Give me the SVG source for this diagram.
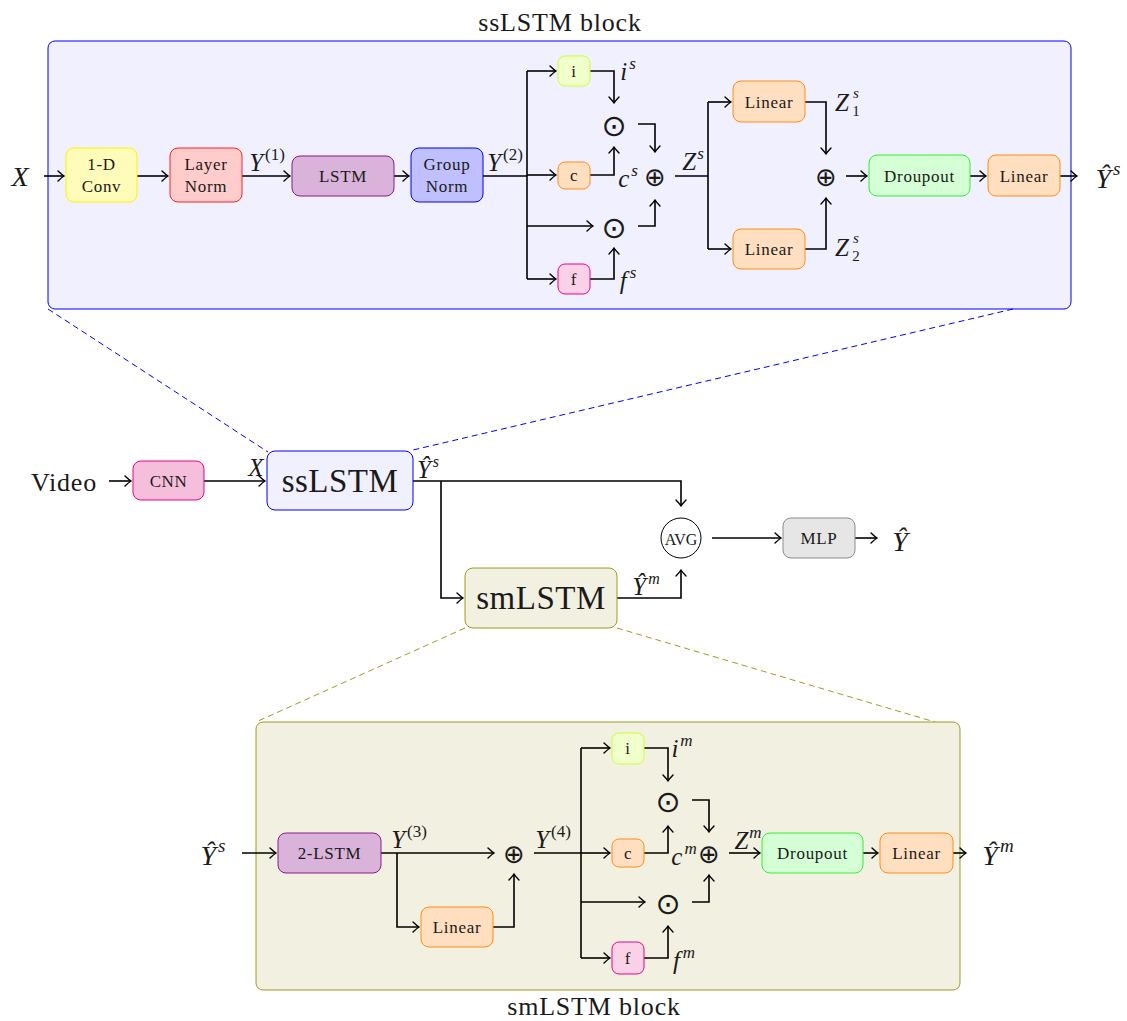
<svg xmlns="http://www.w3.org/2000/svg" width="1127" height="1021" viewBox="0 0 1127 1021">
<defs>
<marker id="ar" viewBox="-7 -6 9 12" refX="0" refY="0" markerWidth="9" markerHeight="12" markerUnits="userSpaceOnUse" orient="auto">
<path d="M-6,-5 Q-2,-1.2 0,0 Q-2,1.2 -6,5" fill="none" stroke="#000" stroke-width="1.4" stroke-linecap="round"/>
</marker>
<style>
text{font-family:"Liberation Serif","DejaVu Serif",serif;fill:#1a1a1a;text-anchor:middle;dominant-baseline:central}
.lbl{font-size:17px;letter-spacing:0.7px}
.big{font-size:33px;letter-spacing:0.5px}
.ttl{font-size:26px;letter-spacing:0.8px}
.var{font-size:28px;font-style:italic}
.sv{font-size:25px;font-style:italic}
.op{font-family:"DejaVu Sans",sans-serif;font-size:30px}
.opp{font-family:"DejaVu Sans",sans-serif;font-size:26px}
.c path,.c polyline,.c line{fill:none;stroke:#000;stroke-width:1.6}
.a{marker-end:url(#ar)}
.dash{fill:none;stroke-width:1;stroke-dasharray:6 4}
.yel{fill:#fffbb8;stroke:#fff200}
.red{fill:#ffcccc;stroke:#ff2020}
.vio{fill:#d9b3d9;stroke:#8b1a8b}
.blu{fill:#c0c0ff;stroke:#0000ff}
.lim{fill:#f0ffcc;stroke:#ccff33}
.ora{fill:#ffdfbf;stroke:#ff8c1a}
.mag{fill:#fad1e6;stroke:#ec008c}
.mag2{fill:#f5bedb;stroke:#ec008c}
.grn{fill:#d5ffd5;stroke:#33ee33}
.gry{fill:#e6e6e6;stroke:#8c8c8c}
.bx{stroke-width:1}
</style>
</defs>

<g id="ssLSTM-block">
<rect x="48" y="41" width="1023" height="268" rx="7" fill="#f0f0fe" stroke="#0000ff" stroke-width="1"/>
<text x="560" y="22" class="ttl">ssLSTM block</text>
</g>

<g id="smLSTM-block">
<rect x="256" y="722" width="704" height="268" rx="7" fill="#f2f0e0" stroke="#a09a20" stroke-width="1"/>
<text x="594" y="1006" class="ttl">smLSTM block</text>
</g>

<g id="zoom-lines">
<line x1="48" y1="309" x2="268" y2="452" class="dash" stroke="#0000ff"/>
<line x1="1013" y1="309" x2="413" y2="450" class="dash" stroke="#0000ff"/>
<line x1="465" y1="628" x2="256" y2="722" class="dash" stroke="#a09a20"/>
<line x1="617" y1="628" x2="935" y2="722" class="dash" stroke="#a09a20"/>
</g>

<g id="connectors" class="c">
<line x1="44" y1="176" x2="64" y2="176" class="a"/>
<line x1="137" y1="176" x2="168" y2="176" class="a"/>
<line x1="242" y1="176" x2="290" y2="176" class="a"/>
<line x1="394" y1="176" x2="409" y2="176" class="a"/>
<line x1="483" y1="176" x2="527" y2="176"/>
<line x1="527" y1="71" x2="527" y2="279"/>
<polyline points="527,71 556,71" class="a"/>
<polyline points="527,175 556,175" class="a"/>
<polyline points="527,226 593,226" class="a"/>
<polyline points="527,279 556,279" class="a"/>
<polyline points="590,71 614,71 614,103" class="a"/>
<polyline points="590,175 614,175 614,147" class="a"/>
<polyline points="590,279 614,279 614,248" class="a"/>
<polyline points="638,124 655,124 655,152" class="a"/>
<polyline points="638,226 655,226 655,200" class="a"/>
<line x1="675" y1="176" x2="708" y2="176"/>
<line x1="708" y1="102" x2="708" y2="249"/>
<polyline points="708,102 731,102" class="a"/>
<polyline points="708,249 731,249" class="a"/>
<polyline points="805,102 826,102 826,154" class="a"/>
<polyline points="805,249 826,249 826,198" class="a"/>
<line x1="846" y1="176" x2="867" y2="176" class="a"/>
<line x1="970" y1="176" x2="986" y2="176" class="a"/>
<line x1="1060" y1="176" x2="1077" y2="176" class="a"/>
<line x1="109" y1="481" x2="131" y2="481" class="a"/>
<line x1="204" y1="481" x2="265" y2="481" class="a"/>
<polyline points="413,481 681,481 681,506" class="a"/>
<polyline points="441,481 441,598 463,598" class="a"/>
<polyline points="617,598 681,598 681,570" class="a"/>
<line x1="712" y1="538" x2="781" y2="538" class="a"/>
<line x1="855" y1="538" x2="877" y2="538" class="a"/>
<line x1="242" y1="853" x2="276" y2="853" class="a"/>
<line x1="381" y1="853" x2="494" y2="853" class="a"/>
<polyline points="397,853 397,927 419,927" class="a"/>
<polyline points="493,927 514,927 514,874" class="a"/>
<line x1="534" y1="853" x2="581" y2="853"/>
<line x1="581" y1="748" x2="581" y2="958"/>
<polyline points="581,748 610,748" class="a"/>
<polyline points="581,853 610,853" class="a"/>
<polyline points="581,902 645,902" class="a"/>
<polyline points="581,958 610,958" class="a"/>
<polyline points="644,748 668,748 668,781" class="a"/>
<polyline points="644,853 668,853 668,826" class="a"/>
<polyline points="644,958 668,958 668,926" class="a"/>
<polyline points="692,800 709,800 709,832" class="a"/>
<polyline points="692,902 709,902 709,875" class="a"/>
<line x1="729" y1="853" x2="760" y2="853" class="a"/>
<line x1="863" y1="853" x2="878" y2="853" class="a"/>
<line x1="953" y1="853" x2="966" y2="853" class="a"/>
</g>

<g id="X-in"><text x="20" y="176" class="var">X</text></g>
<g id="conv"><rect x="66" y="148" width="71" height="54" rx="8" class="yel bx"/><text x="101.5" y="164" class="lbl">1-D</text><text x="101.5" y="186" class="lbl">Conv</text></g>
<g id="layernorm"><rect x="170" y="148" width="72" height="54" rx="8" class="red bx"/><text x="206" y="164" class="lbl">Layer</text><text x="206" y="186" class="lbl">Norm</text></g>
<g id="Y1"><text x="267" y="162" class="sv">Y<tspan font-style="normal" font-size="17" dx="2" dy="-8">(1)</tspan></text></g>
<g id="lstm"><rect x="292" y="156" width="102" height="40" rx="8" class="vio bx"/><text x="343" y="176" class="lbl">LSTM</text></g>
<g id="groupnorm"><rect x="411" y="148" width="72" height="54" rx="8" class="blu bx"/><text x="447" y="164" class="lbl">Group</text><text x="447" y="186" class="lbl">Norm</text></g>
<g id="Y2"><text x="505" y="162" class="sv">Y<tspan font-style="normal" font-size="17" dx="2" dy="-8">(2)</tspan></text></g>
<g id="gate-i"><rect x="558" y="56" width="32" height="30" rx="7" class="lim bx"/><text x="574" y="71" class="lbl">i</text></g>
<g id="gate-c"><rect x="558" y="162" width="32" height="27" rx="7" class="ora bx"/><text x="574" y="175" class="lbl">c</text></g>
<g id="gate-f"><rect x="558" y="264" width="32" height="30" rx="7" class="mag bx"/><text x="574" y="279" class="lbl">f</text></g>
<g id="is"><text x="628" y="71" class="sv">i<tspan font-size="17" dx="2" dy="-8">s</tspan></text></g>
<g id="cs"><text x="628" y="178" class="sv">c<tspan font-size="17" dx="2" dy="-8">s</tspan></text></g>
<g id="fs"><text x="628" y="280" class="sv">f<tspan font-size="17" dx="3" dy="-8">s</tspan></text></g>
<g id="odot1"><text x="614" y="125" class="op">⊙</text></g>
<g id="odot2"><text x="614" y="227" class="op">⊙</text></g>
<g id="oplus1"><text x="655" y="177" class="opp">⊕</text></g>
<g id="Zs"><text x="693" y="161" class="sv">Z<tspan font-size="17" dx="1" dy="-8">s</tspan></text></g>
<g id="linear1"><rect x="733" y="81" width="72" height="41" rx="8" class="ora bx"/><text x="769" y="102" class="lbl">Linear</text></g>
<g id="linear2"><rect x="733" y="229" width="72" height="40" rx="8" class="ora bx"/><text x="769" y="249" class="lbl">Linear</text></g>
<g id="Z1"><text x="842" y="102" class="sv">Z</text><text x="856" y="93" font-size="15" font-style="italic">s</text><text x="856" y="111" font-size="15">1</text></g>
<g id="Z2"><text x="842" y="247" class="sv">Z</text><text x="856" y="238" font-size="15" font-style="italic">s</text><text x="856" y="256" font-size="15">2</text></g>
<g id="oplus2"><text x="826" y="177" class="opp">⊕</text></g>
<g id="dropout1"><rect x="869" y="155" width="101" height="41" rx="8" class="grn bx"/><text x="919.5" y="176" class="lbl">Droupout</text></g>
<g id="linear3"><rect x="988" y="155" width="72" height="41" rx="8" class="ora bx"/><text x="1024" y="176" class="lbl">Linear</text></g>
<g id="Ys-out"><text x="1108" y="178" class="var">Ŷ<tspan font-size="19" dx="2" dy="-10">s</tspan></text></g>

<g id="video"><text x="64" y="482" class="ttl">Video</text></g>
<g id="cnn"><rect x="133" y="461" width="71" height="39" rx="8" class="mag2 bx"/><text x="168.5" y="481" font-size="17" letter-spacing="0.6">CNN</text></g>
<g id="X-mid"><text x="256" y="467" class="sv">X</text></g>
<g id="ssLSTM"><rect x="267" y="451" width="146" height="59" rx="8" fill="#f0f0fe" stroke="#0000ff" stroke-width="1"/><text x="340" y="481" class="big">ssLSTM</text></g>
<g id="Ys-mid"><text x="428" y="469" class="sv" font-size="22">Ŷ<tspan font-size="16" dx="2" dy="-8">s</tspan></text></g>
<g id="smLSTM"><rect x="465" y="568" width="152" height="60" rx="8" fill="#f2f0e0" stroke="#a09a20" stroke-width="1"/><text x="541" y="598" class="big">smLSTM</text></g>
<g id="Ym-mid"><text x="646" y="586" class="sv" font-size="22">Ŷ<tspan font-size="16" dx="2" dy="-8">m</tspan></text></g>
<g id="avg"><circle cx="681" cy="538" r="20" fill="none" stroke="#000" stroke-width="1"/><text x="681" y="539" font-size="16">AVG</text></g>
<g id="mlp"><rect x="783" y="518" width="72" height="40" rx="8" class="gry bx"/><text x="819" y="538" class="lbl">MLP</text></g>
<g id="Y-final"><text x="900" y="541" class="var">Ŷ</text></g>

<g id="Ys-in"><text x="213" y="855" class="var">Ŷ<tspan font-size="19" dx="2" dy="-10">s</tspan></text></g>
<g id="lstm2"><rect x="278" y="833" width="103" height="40" rx="8" class="vio bx"/><text x="329.5" y="853" class="lbl">2-LSTM</text></g>
<g id="Y3"><text x="409" y="839" class="sv">Y<tspan font-style="normal" font-size="17" dx="2" dy="-8">(3)</tspan></text></g>
<g id="linear4"><rect x="421" y="907" width="72" height="40" rx="8" class="ora bx"/><text x="457" y="927" class="lbl">Linear</text></g>
<g id="oplus3"><text x="514" y="854" class="opp">⊕</text></g>
<g id="Y4"><text x="553" y="839" class="sv">Y<tspan font-style="normal" font-size="17" dx="2" dy="-8">(4)</tspan></text></g>
<g id="gate-i2"><rect x="612" y="733" width="32" height="31" rx="7" class="lim bx"/><text x="628" y="748" class="lbl">i</text></g>
<g id="gate-c2"><rect x="612" y="839" width="32" height="28" rx="7" class="ora bx"/><text x="628" y="853" class="lbl">c</text></g>
<g id="gate-f2"><rect x="612" y="942" width="32" height="32" rx="7" class="mag bx"/><text x="628" y="958" class="lbl">f</text></g>
<g id="im"><text x="682" y="748" class="sv">i<tspan font-size="17" dx="2" dy="-8">m</tspan></text></g>
<g id="cm"><text x="684" y="856" class="sv">c<tspan font-size="17" dx="2" dy="-8">m</tspan></text></g>
<g id="fm"><text x="684" y="960" class="sv">f<tspan font-size="17" dx="3" dy="-8">m</tspan></text></g>
<g id="odot3"><text x="668" y="801" class="op">⊙</text></g>
<g id="odot4"><text x="668" y="903" class="op">⊙</text></g>
<g id="oplus4"><text x="709" y="854" class="opp">⊕</text></g>
<g id="Zm"><text x="748" y="840" class="sv">Z<tspan font-size="17" dx="1" dy="-8">m</tspan></text></g>
<g id="dropout2"><rect x="762" y="833" width="101" height="40" rx="8" class="grn bx"/><text x="812.5" y="853" class="lbl">Droupout</text></g>
<g id="linear5"><rect x="880" y="833" width="73" height="40" rx="8" class="ora bx"/><text x="916.5" y="853" class="lbl">Linear</text></g>
<g id="Ym-out"><text x="998" y="855" class="var">Ŷ<tspan font-size="19" dx="2" dy="-10">m</tspan></text></g>
</svg>
